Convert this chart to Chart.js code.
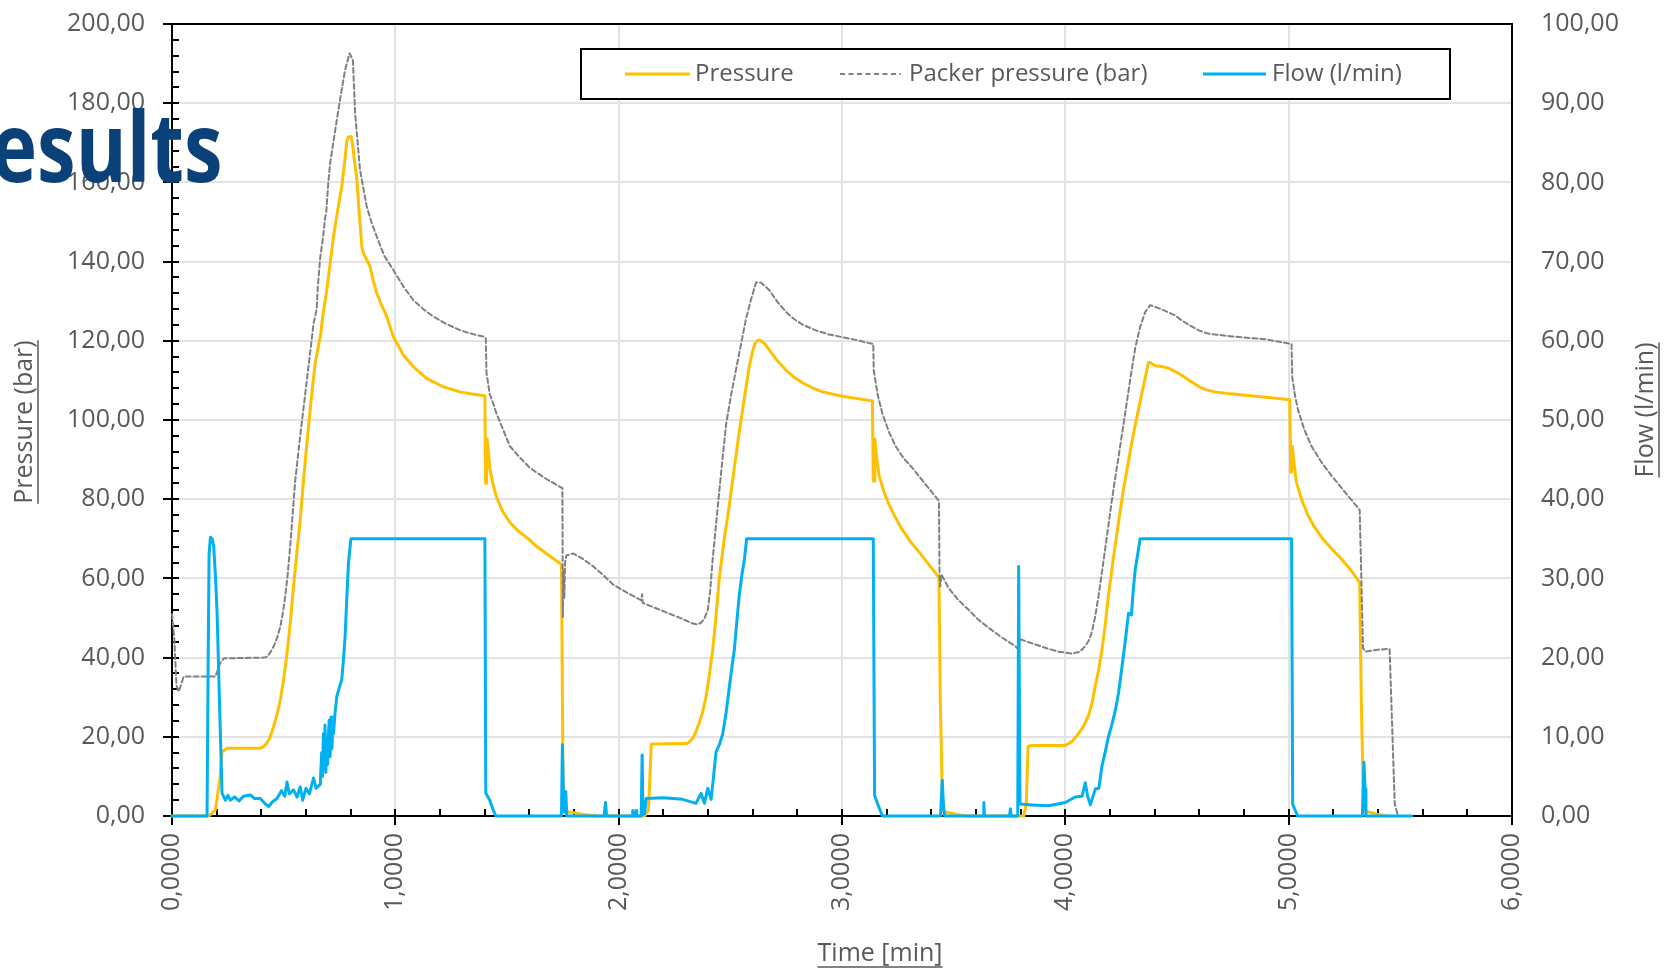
<!DOCTYPE html>
<html>
<head>
<meta charset="utf-8">
<title>Results</title>
<script src="https://cdn.jsdelivr.net/npm/chart.js@4.4.1/dist/chart.umd.min.js"></script>
<style>
  html, body { margin: 0; padding: 0; background: #fff; }
  #wrap { position: relative; width: 1665px; height: 970px; overflow: hidden; }
  #heading {
    position: absolute; left: -60px; top: 96px;
    font-family: "Open Sans", sans-serif; font-weight: bold; font-size: 97px;
    line-height: 1; color: #0B4179; white-space: nowrap;
    transform: scaleX(0.8); transform-origin: left top;
  }
</style>
</head>
<body>
<div id="wrap">
  <canvas id="chart" width="1665" height="970"></canvas>
  <div id="heading">Results</div>
</div>
<script>
// time in minutes, pressures in bar, flow in l/min
const pressT = [0, 0.165, 0.194, 0.214, 0.224, 0.247, 0.395, 0.410, 0.425, 0.440, 0.455, 0.470, 0.485, 0.500, 0.515, 0.530, 0.544, 0.559, 0.574, 0.589, 0.604, 0.622, 0.641, 0.667, 0.671, 0.676, 0.693, 0.708, 0.723, 0.742, 0.760, 0.775, 0.783, 0.790, 0.803, 0.810, 0.818, 0.828, 0.840, 0.850, 0.857, 0.872, 0.887, 0.902, 0.917, 0.940, 0.962, 0.991, 1.036, 1.080, 1.140, 1.214, 1.289, 1.350, 1.401,
  1.404, 1.408, 1.411, 1.423, 1.437, 1.453, 1.480, 1.513, 1.550, 1.587, 1.630, 1.676, 1.710, 1.744, 1.748, 1.752, 1.760, 1.800, 1.850, 1.900, 2.116, 2.133, 2.140, 2.146, 2.160, 2.302, 2.315, 2.330, 2.345, 2.361, 2.376, 2.391, 2.406, 2.421, 2.436, 2.451, 2.473, 2.496, 2.518, 2.540, 2.563, 2.585, 2.600, 2.612, 2.625, 2.637, 2.655, 2.674, 2.710, 2.749, 2.785, 2.823, 2.865, 2.912, 3.002, 3.070, 3.136,
  3.140, 3.144, 3.147, 3.156, 3.166, 3.187, 3.210, 3.240, 3.270, 3.305, 3.345, 3.390, 3.434, 3.440, 3.450, 3.460, 3.520, 3.560, 3.814, 3.825, 3.833, 3.850, 4.000, 4.030, 4.059, 4.082, 4.104, 4.120, 4.134, 4.150, 4.164, 4.178, 4.193, 4.215, 4.238, 4.260, 4.283, 4.305, 4.327, 4.350, 4.372, 4.380, 4.402, 4.430, 4.462, 4.490, 4.521, 4.560, 4.596, 4.630, 4.670, 4.740, 4.819, 4.910, 5.005,
  5.009, 5.013, 5.016, 5.025, 5.035, 5.060, 5.087, 5.115, 5.147, 5.190, 5.236, 5.280, 5.318, 5.325, 5.335, 5.345, 5.400, 5.440];
const pressV = [0, 0, 1.5, 9.1, 16.2, 17.1, 17.1, 17.5, 18.4, 20.0, 22.6, 25.5, 29.3, 34.5, 41.1, 49.0, 57.9, 66.5, 74.7, 84.8, 94.1, 104.5, 114.3, 122.0, 124.4, 126.5, 132.8, 139.5, 146.3, 153.0, 158.9, 166.0, 170.5, 171.5, 171.5, 169.0, 165.0, 160.6, 151.0, 143.8, 142.1, 140.5, 138.7, 135.0, 132.0, 128.8, 126.1, 121.0, 116.4, 113.5, 110.5, 108.4, 107.1, 106.5, 106.1,
  84.0, 84.0, 95.2, 87.9, 83.8, 80.5, 77.0, 74.1, 72.0, 70.4, 68.2, 66.3, 64.9, 63.5, 30.0, 3.0, 1.2, 0.8, 0.3, 0, 0, 1.4, 10.0, 18.1, 18.2, 18.3, 18.6, 19.5, 21.1, 23.6, 26.3, 30.0, 35.5, 42.0, 50.5, 60.3, 70.0, 78.7, 88.0, 97.0, 105.6, 113.6, 117.4, 119.5, 120.2, 120.0, 119.2, 117.7, 115.0, 112.6, 110.8, 109.4, 108.2, 107.1, 106.0, 105.4, 104.8,
  84.6, 84.6, 95.2, 90.0, 86.0, 82.0, 78.7, 75.3, 72.3, 69.4, 66.7, 63.4, 60.3, 30.0, 2.0, 1.0, 0.3, 0, 0, 3.0, 17.6, 17.8, 17.8, 18.8, 20.8, 22.7, 25.4, 28.6, 32.8, 37.1, 41.9, 48.0, 55.7, 65.0, 74.1, 82.4, 89.7, 96.5, 102.5, 108.7, 114.5, 114.5, 113.7, 113.5, 113.1, 112.3, 111.3, 109.8, 108.5, 107.6, 107.1, 106.6, 106.2, 105.7, 105.1,
  86.9, 86.9, 93.4, 88.5, 84.2, 79.6, 75.9, 73.0, 70.4, 67.6, 64.9, 62.0, 58.9, 30.0, 3.0, 1.2, 0.4, 0];

const packT = [0, 0.010, 0.020, 0.030, 0.040, 0.052, 0.194, 0.215, 0.232, 0.410, 0.425, 0.440, 0.455, 0.470, 0.485, 0.497, 0.507, 0.518, 0.529, 0.544, 0.552, 0.574, 0.604, 0.634, 0.648, 0.652, 0.664, 0.676, 0.686, 0.690, 0.700, 0.708, 0.727, 0.745, 0.760, 0.775, 0.795, 0.810, 0.820, 0.842, 0.872, 0.895, 0.917, 0.950, 0.991, 1.035, 1.080, 1.125, 1.170, 1.230, 1.289, 1.345, 1.401,
  1.405, 1.408, 1.423, 1.438, 1.453, 1.483, 1.513, 1.550, 1.602, 1.676, 1.748, 1.750, 1.753, 1.757, 1.760, 1.766, 1.795, 1.840, 1.885, 1.930, 1.974, 2.040, 2.100, 2.105, 2.108, 2.170, 2.227, 2.280, 2.332, 2.352, 2.369, 2.385, 2.399, 2.410, 2.421, 2.436, 2.451, 2.466, 2.481, 2.503, 2.525, 2.548, 2.570, 2.593, 2.615, 2.637, 2.674, 2.710, 2.749, 2.785, 2.823, 2.880, 2.942, 3.047, 3.140,
  3.142, 3.160, 3.181, 3.210, 3.240, 3.275, 3.315, 3.375, 3.434, 3.437, 3.440, 3.445, 3.478, 3.520, 3.568, 3.610, 3.657, 3.715, 3.776, 3.791, 3.794, 3.866, 3.920, 3.970, 4.030, 4.065, 4.089, 4.105, 4.119, 4.134, 4.149, 4.164, 4.179, 4.194, 4.208, 4.223, 4.238, 4.257, 4.275, 4.294, 4.313, 4.335, 4.358, 4.380, 4.420, 4.450, 4.492, 4.520, 4.551, 4.595, 4.640, 4.745, 4.894, 5.013,
  5.016, 5.028, 5.042, 5.070, 5.102, 5.145, 5.191, 5.255, 5.318, 5.333, 5.345, 5.400, 5.452, 5.465, 5.475, 5.490, 5.550];
const packV = [51.0, 45.0, 33.0, 31.4, 33.0, 35.2, 35.2, 38.5, 39.8, 40.0, 40.2, 41.3, 42.8, 44.9, 47.8, 51.5, 55.4, 61.0, 68.0, 79.0, 84.8, 96.0, 110.1, 124.4, 128.0, 133.0, 141.2, 146.0, 151.3, 152.0, 160.0, 164.8, 171.8, 178.3, 183.5, 188.4, 192.6, 190.9, 177.4, 163.1, 153.9, 149.6, 146.3, 141.5, 137.9, 133.8, 130.3, 128.0, 126.1, 124.2, 122.7, 121.7, 121.0,
  120.7, 112.0, 106.5, 104.2, 101.6, 97.5, 93.4, 91.0, 87.9, 85.1, 82.8, 50.2, 62.0, 55.0, 64.0, 65.8, 66.3, 64.9, 63.1, 60.9, 58.5, 56.3, 54.5, 56.0, 53.8, 52.4, 51.1, 49.9, 48.6, 48.4, 48.8, 50.0, 52.0, 57.0, 64.9, 73.6, 82.3, 90.8, 98.9, 106.2, 112.6, 119.2, 125.5, 130.5, 134.7, 134.7, 132.8, 129.9, 127.3, 125.5, 124.1, 122.7, 121.6, 120.4, 119.2,
  112.6, 106.3, 101.6, 97.0, 93.4, 90.4, 87.9, 83.7, 79.6, 60.3, 58.0, 61.0, 57.5, 54.6, 52.0, 49.6, 47.5, 45.1, 42.9, 42.0, 44.7, 43.3, 42.3, 41.5, 41.0, 41.5, 42.9, 44.3, 46.5, 50.5, 55.7, 61.6, 67.7, 73.8, 79.6, 85.2, 90.6, 97.6, 104.4, 111.5, 118.2, 123.5, 127.3, 129.0, 128.2, 127.5, 126.4, 125.2, 124.1, 122.7, 121.8, 121.1, 120.4, 119.2,
  110.8, 106.3, 102.5, 97.6, 93.4, 89.5, 86.0, 81.6, 77.3, 42.4, 41.5, 42.0, 42.2, 20.0, 3.0, 0, 0];

const flowT = [0, 0.157, 0.162, 0.166, 0.172, 0.180, 0.187, 0.195, 0.202, 0.214, 0.224, 0.239, 0.250, 0.262, 0.280, 0.300, 0.320, 0.351, 0.370, 0.395, 0.415, 0.433, 0.450, 0.470, 0.490, 0.505, 0.515, 0.525, 0.544, 0.560, 0.574, 0.585, 0.600, 0.615, 0.634, 0.645, 0.664, 0.670, 0.674, 0.678, 0.682, 0.685, 0.689, 0.693, 0.697, 0.700, 0.704, 0.708, 0.712, 0.716, 0.720, 0.723, 0.730, 0.738, 0.745, 0.752, 0.760, 0.767, 0.775, 0.782, 0.790, 0.801, 1.401,
  1.405, 1.423, 1.438, 1.450, 1.744, 1.748, 1.753, 1.757, 1.763, 1.768, 1.935, 1.941, 1.946, 2.060, 2.063, 2.066, 2.076, 2.078, 2.081, 2.101, 2.105, 2.109, 2.116, 2.123, 2.200, 2.287, 2.346, 2.369, 2.384, 2.399, 2.414, 2.425, 2.436, 2.451, 2.466, 2.481, 2.496, 2.507, 2.518, 2.529, 2.540, 2.552, 2.563, 2.573, 3.140,
  3.146, 3.160, 3.181, 3.441, 3.449, 3.455, 3.460, 3.632, 3.635, 3.638, 3.750, 3.754, 3.757, 3.787, 3.791, 3.797, 3.850, 3.925, 4.000, 4.044, 4.075, 4.089, 4.100, 4.112, 4.134, 4.150, 4.164, 4.178, 4.193, 4.208, 4.223, 4.238, 4.253, 4.268, 4.283, 4.296, 4.304, 4.313, 4.335, 5.013,
  5.018, 5.040, 5.330, 5.337, 5.342, 5.346, 5.550];
const flowV = [0, 0, 20.0, 33.0, 35.2, 35.0, 34.0, 30.0, 25.6, 13.0, 2.9, 2.0, 2.6, 2.0, 2.4, 1.9, 2.5, 2.65, 2.2, 2.2, 1.6, 1.2, 1.8, 2.2, 3.2, 2.5, 4.3, 2.8, 3.3, 2.4, 3.7, 2.0, 3.5, 2.8, 4.8, 3.5, 4.0, 8.0, 5.0, 10.4, 6.0, 11.5, 5.5, 9.5, 6.5, 10.0, 12.1, 7.5, 12.5, 8.5, 11.5, 10.4, 13.0, 15.1, 15.8, 16.5, 17.2, 19.5, 22.6, 27.0, 31.9, 35.0, 35.0,
  2.9, 2.0, 0.76, 0, 0, 9.0, 2.0, 0.5, 3.1, 0, 0, 1.7, 0, 0, 0.7, 0, 0, 0.7, 0, 0, 7.7, 0.2, 0.3, 2.2, 2.3, 2.1, 1.6, 2.85, 1.6, 3.5, 2.1, 5.0, 8.1, 9.0, 10.4, 13.0, 16.4, 18.8, 21.0, 24.5, 27.9, 30.5, 32.4, 35.0, 35.0,
  2.6, 1.5, 0, 0, 4.5, 1.0, 0, 0, 1.7, 0, 0, 0.9, 0, 0, 31.5, 1.5, 1.4, 1.3, 1.7, 2.4, 2.5, 4.2, 2.5, 1.4, 3.4, 3.5, 6.3, 8.0, 10.0, 11.5, 13.2, 15.5, 18.7, 22.0, 25.6, 25.4, 28.5, 31.1, 35.0, 35.0,
  1.5, 0, 0, 6.8, 3.4, 0, 0];

const xTicks = [0, 1, 2, 3, 4, 5, 6];

const LABEL_GREY = '#595959';
const FONT = '"Open Sans", sans-serif';
Chart.defaults.font.family = FONT;

const fmt = (v, d) => v.toFixed(d).replace('.', ',');
const toPoints = (t, v) => t.map((x, i) => ({ x: x, y: v[i] }));

// axis titles, tick marks, box border and the framed legend
const decoPlugin = {
  id: 'deco',
  beforeDatasetsDraw(chart) {
    const { ctx, chartArea: a, scales } = chart;
    ctx.save();
    ctx.strokeStyle = '#000';
    ctx.lineWidth = 2;
    ctx.beginPath();
    ctx.moveTo(a.left - 9, a.top);
    ctx.lineTo(a.right, a.top);
    for (let v = 0; v <= 6.001; v += 0.2) {
      const px = Math.round(scales.x.getPixelForValue(v));
      const major = Math.abs(v - Math.round(v)) < 0.01;
      ctx.moveTo(px, a.bottom - 7);
      ctx.lineTo(px, a.bottom + (major ? 9 : 0));
    }
    for (let v = 0; v <= 200; v += 4) {
      const py = Math.round(scales.y.getPixelForValue(v));
      ctx.moveTo(a.left - (v % 20 === 0 ? 9 : 0), py);
      ctx.lineTo(a.left + 7, py);
    }
    ctx.stroke();
    ctx.restore();
  },
  afterDraw(chart) {
    const { ctx } = chart;
    ctx.save();
    ctx.fillStyle = LABEL_GREY;
    ctx.strokeStyle = LABEL_GREY;
    ctx.font = '25px ' + FONT;
    ctx.textAlign = 'center';
    ctx.textBaseline = 'middle';
    const title = (text, cx, cy, rot) => {
      ctx.save();
      ctx.translate(cx, cy);
      ctx.rotate(rot);
      ctx.fillText(text, 0, 0);
      const w = ctx.measureText(text).width;
      ctx.lineWidth = 1.5;
      ctx.beginPath();
      ctx.moveTo(-w / 2, 13);
      ctx.lineTo(w / 2, 13);
      ctx.stroke();
      ctx.restore();
    };
    title('Pressure (bar)', 25, 422, -Math.PI / 2);
    title('Flow (l/min)', 1646, 410, -Math.PI / 2);
    title('Time [min]', 880, 954, 0);

    // legend
    ctx.fillStyle = '#fff';
    ctx.fillRect(581, 49, 869, 50);
    ctx.strokeStyle = '#000';
    ctx.lineWidth = 2;
    ctx.strokeRect(581, 49, 869, 50);
    const items = [
      { label: chart.data.datasets[2].label, color: '#FFC000', width: 3, dash: [], x0: 625, x1: 690, tx: 695 },
      { label: chart.data.datasets[1].label, color: '#808080', width: 2, dash: [5, 3.5], x0: 840, x1: 901, tx: 909 },
      { label: chart.data.datasets[0].label, color: '#00B0F0', width: 3, dash: [], x0: 1203, x1: 1266, tx: 1272 },
    ];
    ctx.font = '24px ' + FONT;
    ctx.textAlign = 'left';
    items.forEach(it => {
      ctx.strokeStyle = it.color;
      ctx.lineWidth = it.width;
      ctx.setLineDash(it.dash);
      ctx.beginPath();
      ctx.moveTo(it.x0, 74);
      ctx.lineTo(it.x1, 74);
      ctx.stroke();
      ctx.setLineDash([]);
      ctx.fillStyle = LABEL_GREY;
      ctx.fillText(it.label, it.tx, 74);
    });
    ctx.restore();
  }
};

const tickFont = { family: FONT, size: 25 };
const gridStyle = { color: '#E3E3E3', lineWidth: 2, drawTicks: false };
const axisBorder = { color: '#000', width: 2 };
const noPadV = s => { s.paddingTop = 0; s.paddingBottom = 0; };

new Chart(document.getElementById('chart'), {
  type: 'line',
  data: {
    datasets: [
      { label: 'Flow (l/min)', data: toPoints(flowT, flowV), yAxisID: 'y1', borderColor: '#00B0F0', borderWidth: 3, order: 1 },
      { label: 'Packer pressure (bar)', data: toPoints(packT, packV), yAxisID: 'y', borderColor: '#808080', borderWidth: 2, borderDash: [5, 3], order: 2 },
      { label: 'Pressure', data: toPoints(pressT, pressV), yAxisID: 'y', borderColor: '#FFC000', borderWidth: 3, order: 3 },
    ]
  },
  options: {
    responsive: false,
    animation: false,
    devicePixelRatio: 1,
    layout: { padding: { top: 24, left: 0, right: 0, bottom: 0 } },
    elements: {
      point: { radius: 0 },
      line: { tension: 0, borderJoinStyle: 'round', borderCapStyle: 'round' }
    },
    datasets: { line: { clip: 4 } },
    plugins: { legend: { display: false }, tooltip: { enabled: false } },
    scales: {
      x: {
        type: 'linear', min: 0, max: 6,
        afterBuildTicks: s => { s.ticks = xTicks.map(v => ({ value: v })); },
        afterFit: s => { s.height = 154; s.paddingLeft = 0; s.paddingRight = 0; },
        ticks: { callback: v => fmt(v, 4), autoSkip: false, minRotation: 90, maxRotation: 90, padding: 17, color: LABEL_GREY, font: tickFont },
        grid: gridStyle,
        border: axisBorder
      },
      y: {
        position: 'left', min: 0, max: 200,
        afterFit: s => { s.width = 172; noPadV(s); },
        ticks: { stepSize: 20, callback: v => fmt(v, 2), padding: 27, color: LABEL_GREY, font: tickFont },
        grid: gridStyle,
        border: axisBorder
      },
      y1: {
        position: 'right', min: 0, max: 100,
        afterFit: s => { s.width = 153; noPadV(s); },
        ticks: { stepSize: 10, callback: v => fmt(v, 2), padding: 29, color: LABEL_GREY, font: tickFont },
        grid: { drawOnChartArea: false, drawTicks: false },
        border: axisBorder
      }
    }
  },
  plugins: [decoPlugin]
});
</script>
</body>
</html>
